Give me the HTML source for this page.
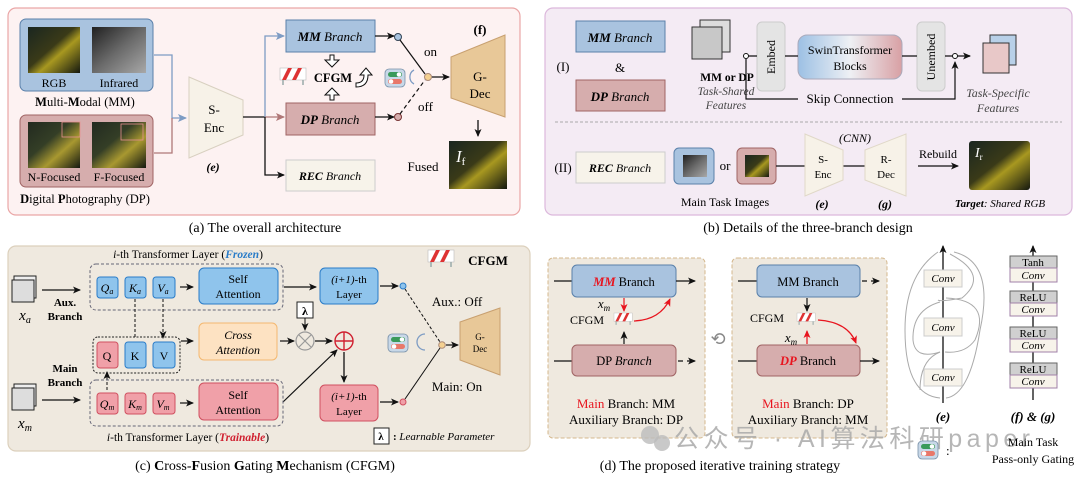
<!DOCTYPE html>
<html><head><meta charset="utf-8">
<style>
html,body{margin:0;padding:0;background:#fff;}
svg{display:block;font-family:"Liberation Serif","Noto Serif CJK SC",serif;}
</style></head>
<body>
<svg width="1080" height="481" viewBox="0 0 1080 481" xmlns="http://www.w3.org/2000/svg">
<defs>
<marker id="ar" markerWidth="8" markerHeight="8" refX="7" refY="4" orient="auto" markerUnits="userSpaceOnUse"><path d="M0,0.5 L8,4 L0,7.5 L2,4z" fill="#111"/></marker>
<marker id="arb" markerWidth="9" markerHeight="9" refX="8" refY="4.5" orient="auto" markerUnits="userSpaceOnUse"><path d="M0,0.5 L9,4.5 L0,8.5 L2,4.5z" fill="#7e9cc4"/></marker>
<marker id="arp" markerWidth="9" markerHeight="9" refX="8" refY="4.5" orient="auto" markerUnits="userSpaceOnUse"><path d="M0,0.5 L9,4.5 L0,8.5 L2,4.5z" fill="#b07878"/></marker>
<marker id="arr" markerWidth="8" markerHeight="8" refX="7" refY="4" orient="auto" markerUnits="userSpaceOnUse"><path d="M0,0.5 L8,4 L0,7.5 L2,4z" fill="#e8141e"/></marker>
<linearGradient id="sw" x1="0" x2="1"><stop offset="0" stop-color="#9cc0e4"/><stop offset="0.5" stop-color="#eef0f4"/><stop offset="1" stop-color="#d8a0a4"/></linearGradient>
<linearGradient id="img1" x1="0" y1="0" x2="1" y2="1"><stop offset="0" stop-color="#1a2620"/><stop offset="0.45" stop-color="#3a3a18"/><stop offset="0.6" stop-color="#a89820"/><stop offset="1" stop-color="#141810"/></linearGradient>
<linearGradient id="img2" x1="0" y1="0" x2="1" y2="1"><stop offset="0" stop-color="#202020"/><stop offset="0.5" stop-color="#6a6a6a"/><stop offset="1" stop-color="#a8a8a8"/></linearGradient>
<linearGradient id="img3" x1="0" y1="0" x2="1" y2="1"><stop offset="0" stop-color="#222a20"/><stop offset="0.4" stop-color="#343e26"/><stop offset="0.65" stop-color="#a89830"/><stop offset="1" stop-color="#141810"/></linearGradient>
<g id="barrier"><rect x="0" y="0" width="26" height="12" fill="#fff" stroke="#bbb" stroke-width="0.6"/><path d="M2,12 L8,0 L12,0 L6,12z M12,12 L18,0 L22,0 L16,12z" fill="#d33"/><path d="M3,12 V17 M23,12 V17" stroke="#9aa" stroke-width="1.5"/></g>
<g id="toggle"><rect x="0" y="0" width="20" height="18" rx="4" fill="#c8d8e8" stroke="#7890a8" stroke-width="0.8"/><rect x="3" y="3" width="14" height="5" rx="2.5" fill="#3a9a5a"/><circle cx="14" cy="5.5" r="2.3" fill="#fff"/><rect x="3" y="10" width="14" height="5" rx="2.5" fill="#e8786a"/><circle cx="6" cy="12.5" r="2.3" fill="#fff"/></g>
</defs>

<!-- ========== PANEL A ========== -->
<rect x="8" y="8" width="512" height="207" rx="8" fill="#fdf2f2" stroke="#eaa6a6" stroke-width="1.2"/>
<rect x="20" y="19" width="133" height="72" rx="6" fill="#a9c3df" stroke="#5a80aa"/>
<rect x="28" y="27" width="52" height="46" fill="url(#img1)"/>
<rect x="92" y="27" width="54" height="46" fill="url(#img2)"/>
<text x="54" y="87" font-size="12" text-anchor="middle">RGB</text>
<text x="119" y="87" font-size="12" text-anchor="middle">Infrared</text>
<text x="85" y="106" font-size="12.5" text-anchor="middle"><tspan font-weight="bold">M</tspan>ulti-<tspan font-weight="bold">M</tspan>odal (MM)</text>
<rect x="20" y="115" width="133" height="72" rx="6" fill="#d6adad" stroke="#a06464"/>
<rect x="28" y="122" width="52" height="46" fill="url(#img3)"/>
<rect x="92" y="122" width="54" height="46" fill="url(#img3)"/>
<rect x="62" y="122" width="18" height="15" fill="none" stroke="#e89090" stroke-width="0.8"/>
<rect x="121" y="124" width="22" height="16" fill="none" stroke="#e89090" stroke-width="0.8"/>
<text x="54" y="181" font-size="12" text-anchor="middle">N-Focused</text>
<text x="119" y="181" font-size="12" text-anchor="middle">F-Focused</text>
<text x="85" y="203" font-size="12.5" text-anchor="middle"><tspan font-weight="bold">D</tspan>igital <tspan font-weight="bold">P</tspan>hotography (DP)</text>
<path d="M154,55 H172 V118 H186" fill="none" stroke="#7e9cc4" stroke-width="1.3" marker-end="url(#arb)"/>
<path d="M154,153 H172 V118" fill="none" stroke="#b07878" stroke-width="1.3"/>
<path d="M189,77 L243,100 L243,135 L189,158z" fill="#f7f2e8" stroke="#d8d0c0"/>
<text x="214" y="114" font-size="13" text-anchor="middle">S-</text>
<text x="214" y="132" font-size="13" text-anchor="middle">Enc</text>
<text x="213" y="171" font-size="12" font-style="italic" font-weight="bold" text-anchor="middle">(e)</text>
<path d="M243,117 H265" stroke="#111" stroke-width="1.3"/>
<path d="M265,117 V36 H284" fill="none" stroke="#7e9cc4" stroke-width="1.3" marker-end="url(#arb)"/>
<path d="M265,117 H284" stroke="#b07878" stroke-width="1.3" marker-end="url(#arp)"/>
<path d="M265,117 V175 H284" fill="none" stroke="#111" stroke-width="1.3" marker-end="url(#ar)"/>
<rect x="286" y="20" width="89" height="32" fill="#a9c3df" stroke="#5a80aa"/>
<text x="330" y="41" font-size="13" text-anchor="middle" font-style="italic"><tspan font-weight="bold">MM</tspan> Branch</text>
<rect x="286" y="103" width="89" height="32" fill="#d6adad" stroke="#a06464"/>
<text x="330" y="124" font-size="13" text-anchor="middle" font-style="italic"><tspan font-weight="bold">DP</tspan> Branch</text>
<rect x="286" y="160" width="89" height="31" fill="#f7f3ea" stroke="#ccc"/>
<text x="330" y="180" font-size="12" text-anchor="middle" font-style="italic"><tspan font-weight="bold">REC</tspan> Branch</text>
<use href="#barrier" x="280" y="68"/>
<text x="333" y="82" font-size="12.5" font-weight="bold" text-anchor="middle">CFGM</text>
<path d="M330,55 v5 h-5 l7,7 l7,-7 h-5 v-5z" fill="#fff" stroke="#111"/>
<path d="M330,100 v-5 h-5 l7,-7 l7,7 h-5 v5z" fill="#fff" stroke="#111"/>
<path d="M356,83 q8,0 8,-8 h-4 l6,-7 l6,7 h-4 q0,12 -12,12z" fill="#fff" stroke="#111"/>
<path d="M375,36 H394" stroke="#111" stroke-width="1.3" marker-end="url(#ar)"/>
<path d="M375,117 H394" stroke="#111" stroke-width="1.3" marker-end="url(#ar)"/>
<circle cx="398" cy="37" r="3.5" fill="#a9c3df" stroke="#345"/>
<circle cx="398" cy="117" r="3.5" fill="#d6adad" stroke="#733"/>
<path d="M400,40 L425,74" stroke="#111" stroke-width="1.2"/>
<path d="M400,114 L425,80" stroke="#111" stroke-width="1.2" stroke-dasharray="4,3"/>
<circle cx="428" cy="77" r="3.5" fill="#f4d090" stroke="#a87"/>
<path d="M432,77 H449" stroke="#111" stroke-width="1.3" marker-end="url(#ar)"/>
<text x="424" y="56" font-size="13">on</text>
<text x="418" y="111" font-size="13">off</text>
<use href="#toggle" x="385" y="69"/>
<path d="M414,70 a8,8 0 0 0 0,14" fill="none" stroke="#7e9cc4" stroke-width="1.3"/>
<path d="M451,57 L505,35 L505,117 L451,98z" fill="#e8c898" stroke="#c8a070"/>
<text x="480" y="81" font-size="13" text-anchor="middle">G-</text>
<text x="480" y="98" font-size="13" text-anchor="middle">Dec</text>
<text x="480" y="34" font-size="13" font-weight="bold" text-anchor="middle">(f)</text>
<path d="M478,120 V136" stroke="#111" stroke-width="1.3" marker-end="url(#ar)"/>
<rect x="449" y="141" width="58" height="48" fill="url(#img1)"/>
<text x="456" y="162" font-size="17" font-style="italic" fill="#fff">I<tspan font-size="11" dy="3" font-style="normal">f</tspan></text>
<text x="423" y="171" font-size="13" text-anchor="middle">Fused</text>
<text x="265" y="232" font-size="14" text-anchor="middle">(a) The overall architecture</text>

<!-- ========== PANEL B ========== -->
<rect x="545" y="8" width="527" height="207" rx="8" fill="#f4ebf4" stroke="#dcb8dc" stroke-width="1.2"/>
<text x="563" y="71" font-size="13" text-anchor="middle">(I)</text>
<rect x="576" y="21" width="89" height="31" fill="#a9c3df" stroke="#5a80aa"/>
<text x="620" y="42" font-size="13" text-anchor="middle" font-style="italic"><tspan font-weight="bold">MM</tspan> Branch</text>
<text x="620" y="72" font-size="13" text-anchor="middle">&amp;</text>
<rect x="576" y="80" width="89" height="31" fill="#d6adad" stroke="#a06464"/>
<text x="620" y="101" font-size="13" text-anchor="middle" font-style="italic"><tspan font-weight="bold">DP</tspan> Branch</text>
<rect x="700" y="20" width="30" height="32" fill="#ddd" stroke="#333"/>
<rect x="692" y="27" width="30" height="32" fill="#c8c8c8" stroke="#333"/>
<text x="727" y="81" font-size="11.5" font-weight="bold" text-anchor="middle">MM or DP</text>
<text x="726" y="95" font-size="11.5" font-style="italic" fill="#444" text-anchor="middle">Task-Shared</text>
<text x="726" y="109" font-size="11.5" font-style="italic" fill="#444" text-anchor="middle">Features</text>
<rect x="757" y="22" width="28" height="69" rx="5" fill="#e4e4e4" stroke="#ccc"/>
<text transform="translate(775,57) rotate(-90)" font-size="12" text-anchor="middle">Embed</text>
<rect x="798" y="35" width="104" height="44" rx="9" fill="url(#sw)" stroke="#aab"/>
<text x="850" y="54" font-size="12" text-anchor="middle">SwinTransformer</text>
<text x="850" y="70" font-size="12" text-anchor="middle">Blocks</text>
<rect x="917" y="22" width="28" height="69" rx="5" fill="#e4e4e4" stroke="#ccc"/>
<text transform="translate(935,57) rotate(-90)" font-size="12" text-anchor="middle">Unembed</text>
<path d="M748,56 H757 M785,56 H798 M902,56 H917 M945,56 H970" stroke="#111" stroke-width="1.2"/>
<path d="M965,56 H970" stroke="#111" stroke-width="1.2" marker-end="url(#ar)"/>
<circle cx="746" cy="56" r="2.5" fill="#fff" stroke="#111"/>
<circle cx="955" cy="56" r="2.5" fill="#fff" stroke="#111"/>
<path d="M746,59 V99 H798" fill="none" stroke="#111" stroke-width="1.2"/>
<path d="M902,99 H955 V62" fill="none" stroke="#111" stroke-width="1.2" marker-end="url(#ar)"/>
<text x="850" y="103" font-size="13" text-anchor="middle">Skip Connection</text>
<rect x="990" y="35" width="26" height="30" fill="#b8d0e8" stroke="#333"/>
<rect x="983" y="43" width="26" height="30" fill="#e8c8c8" stroke="#333"/>
<text x="998" y="97" font-size="12" font-style="italic" fill="#444" text-anchor="middle">Task-Specific</text>
<text x="998" y="112" font-size="12" font-style="italic" fill="#444" text-anchor="middle">Features</text>
<path d="M555,122 H1062" stroke="#aaa" stroke-width="1" stroke-dasharray="3,2"/>
<text x="563" y="172" font-size="13" text-anchor="middle">(II)</text>
<rect x="576" y="152" width="89" height="31" fill="#f7f3ea" stroke="#ccc"/>
<text x="620" y="172" font-size="12" text-anchor="middle" font-style="italic"><tspan font-weight="bold">REC</tspan> Branch</text>
<rect x="674" y="148" width="40" height="36" rx="5" fill="#a9c3df" stroke="#5a80aa"/>
<rect x="683" y="155" width="24" height="22" fill="url(#img2)"/>
<text x="725" y="170" font-size="13" text-anchor="middle">or</text>
<rect x="737" y="148" width="39" height="36" rx="5" fill="#d6adad" stroke="#a06464"/>
<rect x="745" y="155" width="24" height="22" fill="url(#img1)"/>
<text x="725" y="206" font-size="12" text-anchor="middle">Main Task Images</text>
<path d="M776,166 H805 M843,166 H865" stroke="#111" stroke-width="1.2"/>
<path d="M805,134 L843,150 L843,180 L805,196z" fill="#f7f2e8" stroke="#e0d8c8"/>
<text x="823" y="163" font-size="11" text-anchor="middle">S-</text>
<text x="823" y="178" font-size="11" text-anchor="middle">Enc</text>
<path d="M865,150 L906,134 L906,196 L865,180z" fill="#f7f2e8" stroke="#e0d8c8"/>
<text x="886" y="163" font-size="11" text-anchor="middle">R-</text>
<text x="886" y="178" font-size="11" text-anchor="middle">Dec</text>
<text x="855" y="142" font-size="12" font-style="italic" text-anchor="middle">(CNN)</text>
<text x="822" y="208" font-size="12" font-style="italic" font-weight="bold" text-anchor="middle">(e)</text>
<text x="885" y="208" font-size="12" font-style="italic" font-weight="bold" text-anchor="middle">(g)</text>
<path d="M918,166 H958" stroke="#111" stroke-width="1.2" marker-end="url(#ar)"/>
<text x="938" y="158" font-size="12" text-anchor="middle">Rebuild</text>
<rect x="969" y="141" width="61" height="49" rx="3" fill="url(#img1)"/>
<text x="975" y="157" font-size="14" font-style="italic" fill="#fff">I<tspan font-size="9" dy="3" font-style="normal">r</tspan></text>
<text x="1000" y="207" font-size="11" font-style="italic" text-anchor="middle"><tspan font-weight="bold">Target</tspan>: Shared RGB</text>
<text x="808" y="232" font-size="14" text-anchor="middle">(b) Details of the three-branch design</text>

<!-- ========== PANEL C ========== -->
<rect x="8" y="246" width="522" height="205" rx="8" fill="#efe9df" stroke="#dcd0bc" stroke-width="1.2"/>
<text x="188" y="258" font-size="11.5" text-anchor="middle"><tspan font-style="italic">i</tspan>-th Transformer Layer (<tspan font-style="italic" font-weight="bold" fill="#2a7cc8">Frozen</tspan>)</text>
<rect x="90" y="264" width="193" height="46" rx="6" fill="none" stroke="#667" stroke-dasharray="3,2"/>
<g stroke="#2a7cc8" fill="#8fc4ec">
<rect x="97" y="277" width="21" height="21" rx="3"/><rect x="125" y="277" width="21" height="21" rx="3"/><rect x="153" y="277" width="22" height="21" rx="3"/>
<rect x="199" y="268" width="79" height="36" rx="5"/>
<rect x="320" y="268" width="58" height="36" rx="5"/>
</g>
<g font-size="12" text-anchor="middle" font-style="italic">
<text x="107" y="292">Q<tspan font-size="8" dy="2">a</tspan></text>
<text x="135" y="292">K<tspan font-size="8" dy="2">a</tspan></text>
<text x="163" y="292">V<tspan font-size="8" dy="2">a</tspan></text>
</g>
<text x="238" y="283" font-size="12" text-anchor="middle">Self</text>
<text x="238" y="298" font-size="12" text-anchor="middle">Attention</text>
<text x="349" y="283" font-size="11" text-anchor="middle"><tspan font-style="italic">(i+1)</tspan>-th</text>
<text x="349" y="298" font-size="11" text-anchor="middle">Layer</text>
<path d="M180,287 H193" stroke="#111" stroke-width="1.2" marker-end="url(#ar)"/>
<path d="M284,287 H316" stroke="#111" stroke-width="1.2" marker-end="url(#ar)"/>
<path d="M380,286 H398" stroke="#111" stroke-width="1.2" marker-end="url(#ar)"/>
<circle cx="403" cy="286" r="3" fill="#8fc4ec" stroke="#2a7cc8"/>
<rect x="14" y="276" width="22" height="22" fill="#eee" stroke="#222"/>
<rect x="12" y="280" width="22" height="22" fill="#ddd" stroke="#222"/>
<text x="25" y="320" font-size="15" font-style="italic" text-anchor="middle">x<tspan font-size="10" dy="3">a</tspan></text>
<path d="M42,290 H80" stroke="#111" stroke-width="1.3" marker-end="url(#ar)"/>
<text x="65" y="306" font-size="11" font-weight="bold" text-anchor="middle">Aux.</text>
<text x="65" y="320" font-size="11" font-weight="bold" text-anchor="middle">Branch</text>
<rect x="93" y="337" width="87" height="36" rx="5" fill="none" stroke="#222" stroke-dasharray="2,1.5"/>
<rect x="97" y="342" width="21" height="26" rx="3" fill="#f0a0a8" stroke="#d05060"/>
<rect x="125" y="342" width="21" height="26" rx="3" fill="#8fc4ec" stroke="#2a7cc8"/>
<rect x="153" y="342" width="22" height="26" rx="3" fill="#8fc4ec" stroke="#2a7cc8"/>
<text x="107" y="360" font-size="12" text-anchor="middle">Q</text>
<text x="135" y="360" font-size="12" text-anchor="middle">K</text>
<text x="164" y="360" font-size="12" text-anchor="middle">V</text>
<path d="M135,299 V338 M163,299 V338" stroke="#111" stroke-dasharray="3,2" marker-end="url(#ar)"/>
<path d="M107,390 V372" stroke="#111" stroke-dasharray="3,2" marker-end="url(#ar)"/>
<rect x="199" y="323" width="78" height="37" rx="5" fill="#fde2c2" stroke="#f4b870"/>
<text x="238" y="339" font-size="12" font-style="italic" text-anchor="middle">Cross</text>
<text x="238" y="354" font-size="12" font-style="italic" text-anchor="middle">Attention</text>
<path d="M181,341 H193" stroke="#111" stroke-width="1.2" marker-end="url(#ar)"/>
<path d="M280,341 H294" stroke="#111" stroke-width="1.2" marker-end="url(#ar)"/>
<circle cx="305" cy="341" r="9" fill="none" stroke="#999" stroke-width="1.2"/>
<path d="M299,335 L311,347 M311,335 L299,347" stroke="#999" stroke-width="1.2"/>
<rect x="297" y="302" width="16" height="16" fill="#fff" stroke="#222"/>
<text x="305" y="315" font-size="12" font-weight="bold" text-anchor="middle">λ</text>
<path d="M305,318 V330" stroke="#111" marker-end="url(#ar)"/>
<path d="M315,341 H332" stroke="#111" stroke-width="1.2" marker-end="url(#ar)"/>
<circle cx="344" cy="341" r="9" fill="none" stroke="#d02030" stroke-width="1.4"/>
<path d="M335,341 H353 M344,332 V350" stroke="#d02030" stroke-width="1.4"/>
<path d="M344,352 V382" stroke="#111" stroke-width="1.3" marker-end="url(#ar)"/>
<path d="M283,402 L337,350" stroke="#111" stroke-width="1.2" marker-end="url(#ar)"/>
<rect x="90" y="380" width="193" height="46" rx="6" fill="none" stroke="#667" stroke-dasharray="3,2"/>
<g stroke="#d05060" fill="#f0a0a8">
<rect x="97" y="393" width="21" height="21" rx="3"/><rect x="125" y="393" width="21" height="21" rx="3"/><rect x="153" y="393" width="22" height="21" rx="3"/>
<rect x="199" y="383" width="79" height="37" rx="5"/>
<rect x="320" y="385" width="58" height="36" rx="5"/>
</g>
<g font-size="12" text-anchor="middle" font-style="italic">
<text x="107" y="408">Q<tspan font-size="8" dy="2">m</tspan></text>
<text x="135" y="408">K<tspan font-size="8" dy="2">m</tspan></text>
<text x="163" y="408">V<tspan font-size="8" dy="2">m</tspan></text>
</g>
<text x="238" y="399" font-size="12" text-anchor="middle">Self</text>
<text x="238" y="414" font-size="12" text-anchor="middle">Attention</text>
<text x="349" y="400" font-size="11" text-anchor="middle"><tspan font-style="italic">(i+1)</tspan>-th</text>
<text x="349" y="415" font-size="11" text-anchor="middle">Layer</text>
<path d="M180,403 H193" stroke="#111" stroke-width="1.2" marker-end="url(#ar)"/>
<path d="M380,402 H398" stroke="#111" stroke-width="1.2" marker-end="url(#ar)"/>
<circle cx="403" cy="402" r="3" fill="#f0a0a8" stroke="#d05060"/>
<rect x="14" y="384" width="22" height="22" fill="#eee" stroke="#222"/>
<rect x="12" y="388" width="22" height="22" fill="#ddd" stroke="#222"/>
<text x="25" y="428" font-size="15" font-style="italic" text-anchor="middle">x<tspan font-size="10" dy="3">m</tspan></text>
<path d="M42,400 H80" stroke="#111" stroke-width="1.3" marker-end="url(#ar)"/>
<text x="65" y="372" font-size="11" font-weight="bold" text-anchor="middle">Main</text>
<text x="65" y="386" font-size="11" font-weight="bold" text-anchor="middle">Branch</text>
<text x="188" y="441" font-size="11.5" text-anchor="middle"><tspan font-style="italic">i</tspan>-th Transformer Layer (<tspan font-style="italic" font-weight="bold" fill="#d02030">Trainable</tspan>)</text>
<path d="M405,289 L440,342" stroke="#111" stroke-dasharray="3,2"/>
<path d="M405,399 L440,348" stroke="#111"/>
<circle cx="442" cy="345" r="3.3" fill="#f4d090" stroke="#a87"/>
<path d="M446,345 H458" stroke="#111" stroke-width="1.2" marker-end="url(#ar)"/>
<path d="M460,322 L500,308 L500,375 L460,360z" fill="#e8c898" stroke="#c8a070"/>
<text x="480" y="340" font-size="9" text-anchor="middle">G-</text>
<text x="480" y="352" font-size="9" text-anchor="middle">Dec</text>
<use href="#toggle" x="388" y="334"/>
<path d="M425,334 a8,8 0 0 0 0,16" fill="none" stroke="#7e9cc4" stroke-width="1.3"/>
<text x="457" y="306" font-size="13" text-anchor="middle">Aux.: Off</text>
<text x="457" y="391" font-size="13" text-anchor="middle">Main: On</text>
<use href="#barrier" x="428" y="250"/>
<text x="488" y="265" font-size="13" font-weight="bold" text-anchor="middle">CFGM</text>
<rect x="374" y="428" width="15" height="16" fill="#fff" stroke="#222"/>
<text x="381" y="440" font-size="11" font-weight="bold" text-anchor="middle">λ</text>
<text x="393" y="440" font-size="11"><tspan font-weight="bold">:</tspan> <tspan font-style="italic">Learnable Parameter</tspan></text>
<text x="265" y="470" font-size="14" text-anchor="middle">(c) <tspan font-weight="bold">C</tspan>ross-<tspan font-weight="bold">F</tspan>usion <tspan font-weight="bold">G</tspan>ating <tspan font-weight="bold">M</tspan>echanism (CFGM)</text>

<!-- ========== PANEL D ========== -->
<rect x="548" y="258" width="157" height="180" rx="5" fill="#efe9df" stroke="#d4b88e" stroke-dasharray="4,2"/>
<rect x="732" y="258" width="155" height="180" rx="5" fill="#efe9df" stroke="#d4b88e" stroke-dasharray="4,2"/>
<path d="M554,281 H572" stroke="#111" stroke-width="1.2"/>
<rect x="572" y="265" width="104" height="32" rx="5" fill="#a9c3df" stroke="#5a80aa"/>
<text x="624" y="286" font-size="12.5" text-anchor="middle"><tspan font-style="italic" font-weight="bold" fill="#e8141e">MM</tspan> Branch</text>
<path d="M676,281 H695" stroke="#111" stroke-width="1.2" marker-end="url(#ar)"/>
<path d="M554,361 H572" stroke="#111" stroke-width="1.2"/>
<rect x="572" y="345" width="104" height="31" rx="5" fill="#d6adad" stroke="#a06464"/>
<text x="624" y="365" font-size="12.5" text-anchor="middle">DP <tspan font-style="italic">Branch</tspan></text>
<path d="M678,361 H683 M687,361 H695" stroke="#111" stroke-width="1.2" marker-end="url(#ar)"/>
<path d="M624,298 V311" stroke="#e8141e" stroke-width="1.2" marker-end="url(#arr)"/>
<text x="604" y="308" font-size="13" font-style="italic" text-anchor="middle">x<tspan font-size="9" dy="3">m</tspan></text>
<g transform="translate(614,313) scale(0.7)"><use href="#barrier"/></g>
<text x="587" y="324" font-size="12" text-anchor="middle">CFGM</text>
<path d="M624,344 V332" stroke="#111" stroke-width="1.2" marker-end="url(#ar)"/>
<path d="M634,321 Q660,320 670,299" fill="none" stroke="#e8141e" stroke-width="1.3" marker-end="url(#arr)"/>
<text x="626" y="408" font-size="13" text-anchor="middle"><tspan fill="#e8141e">Main</tspan> Branch: MM</text>
<text x="626" y="424" font-size="13" text-anchor="middle">Auxiliary Branch: DP</text>
<path d="M738,281 H757" stroke="#111" stroke-width="1.2"/>
<rect x="757" y="265" width="103" height="32" rx="5" fill="#a9c3df" stroke="#5a80aa"/>
<text x="808" y="286" font-size="12.5" text-anchor="middle">MM Branch</text>
<path d="M862,281 H867 M871,281 H879" stroke="#111" stroke-width="1.2" marker-end="url(#ar)"/>
<path d="M738,361 H757" stroke="#111" stroke-width="1.2"/>
<rect x="757" y="345" width="103" height="31" rx="5" fill="#d6adad" stroke="#a06464"/>
<text x="808" y="365" font-size="12.5" text-anchor="middle"><tspan font-style="italic" font-weight="bold" fill="#e8141e">DP</tspan> Branch</text>
<path d="M860,361 H879" stroke="#111" stroke-width="1.2" marker-end="url(#ar)"/>
<path d="M807,298 V311" stroke="#111" stroke-width="1.2" marker-end="url(#ar)"/>
<g transform="translate(797,313) scale(0.7)"><use href="#barrier"/></g>
<text x="767" y="322" font-size="12" text-anchor="middle">CFGM</text>
<path d="M807,344 V331" stroke="#e8141e" stroke-width="1.2" marker-end="url(#arr)"/>
<text x="791" y="342" font-size="13" font-style="italic" text-anchor="middle">x<tspan font-size="9" dy="3">m</tspan></text>
<path d="M818,320 Q848,322 856,343" fill="none" stroke="#e8141e" stroke-width="1.3" marker-end="url(#arr)"/>
<text x="808" y="408" font-size="13" text-anchor="middle"><tspan fill="#e8141e">Main</tspan> Branch: DP</text>
<text x="808" y="424" font-size="13" text-anchor="middle">Auxiliary Branch: MM</text>
<text x="718" y="345" font-size="18" fill="#888" text-anchor="middle">⟲</text>
<text x="720" y="470" font-size="14" text-anchor="middle">(d) The proposed iterative training strategy</text>
<circle cx="650" cy="435" r="9" fill="#bbb" opacity="0.8"/><circle cx="662" cy="443" r="8" fill="#bbb" opacity="0.8"/>
<text x="674" y="447" font-size="25" fill="#aaa" opacity="0.85" textLength="356" font-family="'Liberation Sans','Noto Sans CJK SC',sans-serif">公众号 · AI算法科研paper</text>

<!-- ========== E ========== -->
<path d="M943,403 V246" stroke="#111" stroke-width="1.3" marker-end="url(#ar)"/>
<g fill="none" stroke="#aaa" stroke-width="1">
<path d="M954,252 Q995,262 980,330 Q970,395 946,398"/>
<path d="M950,254 Q990,275 962,298 Q940,302 938,300"/>
<path d="M946,298 Q992,300 975,340 Q965,354 945,352"/>
<path d="M938,252 Q905,275 905,330 Q905,395 940,398"/>
<path d="M940,302 Q912,310 913,340 Q915,360 940,352"/>
<path d="M940,352 Q920,360 920,390"/>
</g>
<g fill="#f7f3ea" stroke="#ccc">
<rect x="924" y="270" width="38" height="17"/><rect x="924" y="318" width="38" height="18"/><rect x="924" y="369" width="38" height="17"/>
</g>
<g font-size="11" font-style="italic" text-anchor="middle">
<text x="943" y="282">Conv</text><text x="943" y="331">Conv</text><text x="943" y="381">Conv</text>
</g>
<text x="943" y="421" font-size="13" font-style="italic" font-weight="bold" text-anchor="middle">(e)</text>
<path d="M1033,400 V246" stroke="#111" stroke-width="1.3" marker-end="url(#ar)"/>
<g stroke="#666">
<rect x="1010" y="256" width="47" height="12" fill="#d0d0d0"/><rect x="1010" y="268" width="47" height="14" fill="#f7f3ea" stroke="#a080a8"/>
<rect x="1010" y="291" width="47" height="12" fill="#d0d0d0"/><rect x="1010" y="303" width="47" height="13" fill="#f7f3ea" stroke="#a080a8"/>
<rect x="1010" y="327" width="47" height="12" fill="#d0d0d0"/><rect x="1010" y="339" width="47" height="13" fill="#f7f3ea" stroke="#a080a8"/>
<rect x="1010" y="363" width="47" height="12" fill="#d0d0d0"/><rect x="1010" y="375" width="47" height="13" fill="#f7f3ea" stroke="#a080a8"/>
</g>
<g font-size="11" text-anchor="middle">
<text x="1033" y="266">Tanh</text><text x="1033" y="279" font-style="italic">Conv</text>
<text x="1033" y="301">ReLU</text><text x="1033" y="313" font-style="italic">Conv</text>
<text x="1033" y="337">ReLU</text><text x="1033" y="349" font-style="italic">Conv</text>
<text x="1033" y="373">ReLU</text><text x="1033" y="385" font-style="italic">Conv</text>
</g>
<text x="1033" y="421" font-size="13" font-style="italic" font-weight="bold" text-anchor="middle">(f) &amp; (g)</text>
<use href="#toggle" x="918" y="441"/>
<text x="946" y="455" font-size="13">:</text>
<text x="1033" y="446" font-size="12" text-anchor="middle">Main Task</text>
<text x="1033" y="463" font-size="12" text-anchor="middle">Pass-only Gating</text>
</svg>
</body></html>
